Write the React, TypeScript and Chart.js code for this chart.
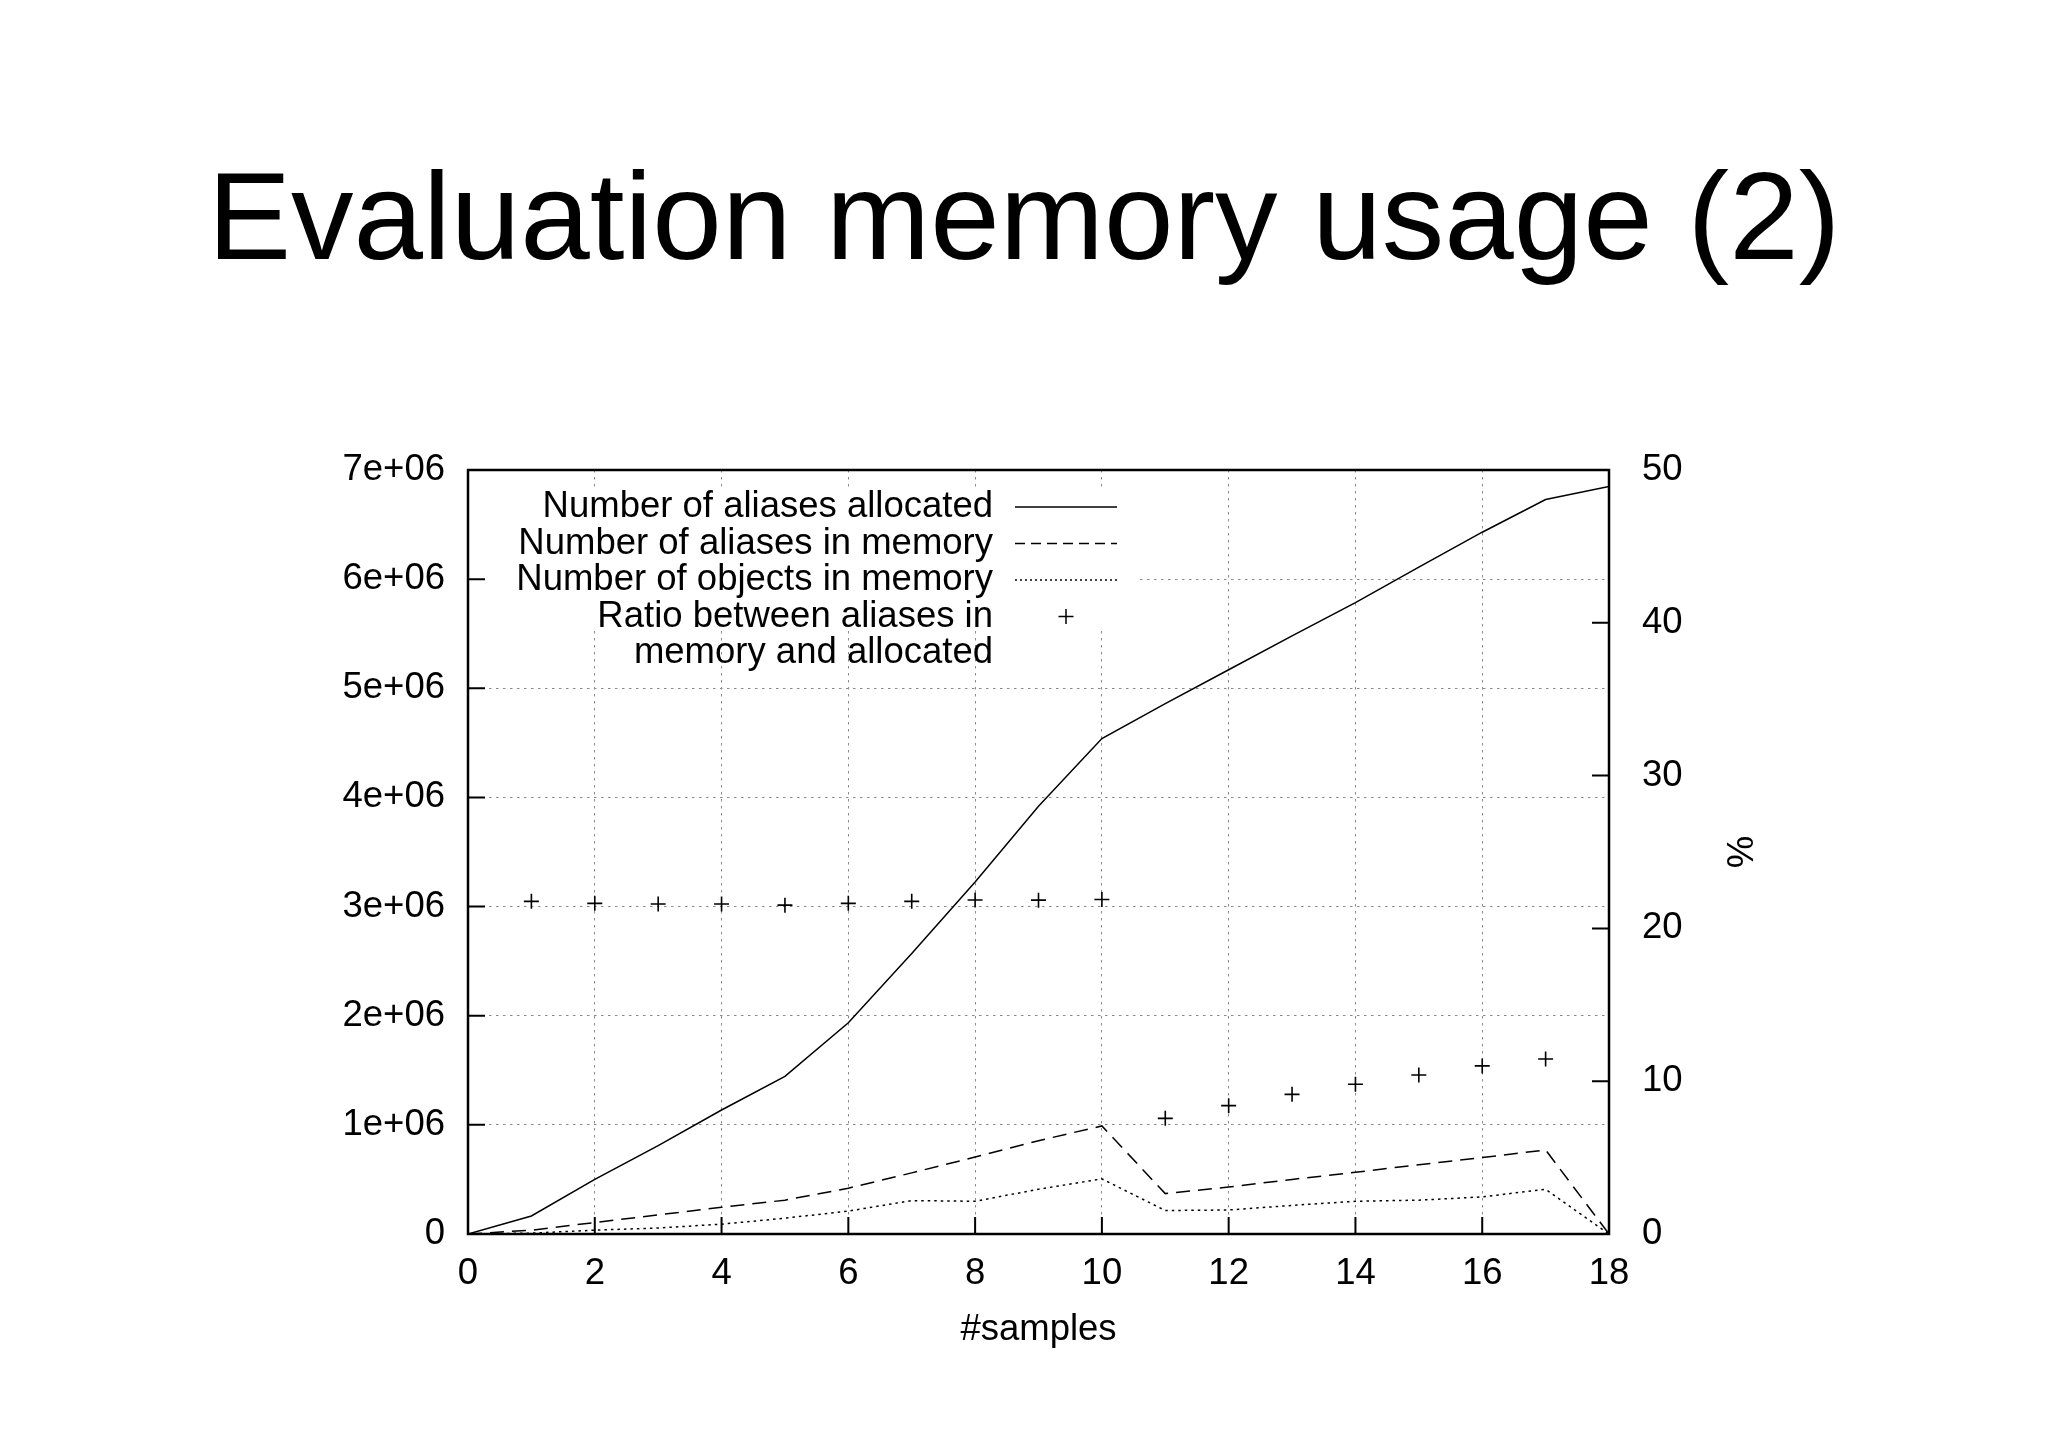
import React, { useEffect, useRef } from 'react';
import { Chart, registerables, Plugin } from 'chart.js';

Chart.register(...registerables);

const FONT = "'Liberation Sans', Helvetica, Arial, sans-serif";

// #samples on the x axis
const samples = [0, 1, 2, 3, 4, 5, 6, 7, 8, 9, 10, 11, 12, 13, 14, 15, 16, 17, 18];

const aliasesAllocated = [
    0, 165000, 500000, 810000, 1136000, 1445000, 1936000, 2570000, 3226000, 3920000,
    4540000, 4860000, 5170000, 5480000, 5785000, 6110000, 6430000, 6730000, 6850000,
];
const aliasesInMemory = [
    0, 35000, 105000, 175000, 245000, 310000, 420000, 560000, 705000, 855000,
    990000, 370000, 430000, 500000, 565000, 635000, 700000, 770000, 0,
];
const objectsInMemory = [
    0, 8000, 35000, 55000, 90000, 145000, 210000, 306000, 300000, 410000,
    505000, 215000, 220000, 262000, 300000, 310000, 340000, 410000, 0,
];
// ratio (%) between aliases in memory and allocated, right axis
const ratioPercent = [
    null, 21.77, 21.64, 21.6, 21.6, 21.52, 21.64, 21.77, 21.86, 21.85,
    21.89, 7.57, 8.4, 9.14, 9.8, 10.41, 11.0, 11.45, null,
];

const seriesLabels = [
    'Number of aliases allocated',
    'Number of aliases in memory',
    'Number of objects in memory',
    'Ratio between aliases in\nmemory and allocated',
];
const leftTickLabels = ['0', '1e+06', '2e+06', '3e+06', '4e+06', '5e+06', '6e+06', '7e+06'];

const tickFont = { family: FONT, size: 36.5 };

// gnuplot style key, frame and inward tick marks
const gnuplotPlugin: Plugin<'line'> = {
    id: 'gnuplotKey',
    beforeDatasetsDraw(chart) {
        const { ctx, chartArea: a } = chart;
        ctx.save();
        ctx.fillStyle = '#fff';
        ctx.fillRect(a.left + 2, a.top + 17, 666, 141);
        ctx.restore();
    },
    afterDraw(chart) {
        const { ctx, chartArea: a } = chart;
        ctx.save();
        ctx.setLineDash([]);
        ctx.strokeStyle = '#000';

        ctx.lineWidth = 2;
        ctx.beginPath();
        const xs = chart.scales.x;
        const ys = chart.scales.y;
        const y2s = chart.scales.y2;
        xs.ticks.forEach((t) => {
            const px = xs.getPixelForValue(t.value);
            ctx.moveTo(px, a.bottom);
            ctx.lineTo(px, a.bottom - 17);
        });
        ys.ticks.forEach((t) => {
            const py = ys.getPixelForValue(t.value);
            ctx.moveTo(a.left, py);
            ctx.lineTo(a.left + 17, py);
        });
        y2s.ticks.forEach((t) => {
            const py = y2s.getPixelForValue(t.value);
            ctx.moveTo(a.right, py);
            ctx.lineTo(a.right - 17, py);
        });
        ctx.stroke();

        ctx.lineWidth = 2.5;
        ctx.strokeRect(a.left, a.top, a.right - a.left, a.bottom - a.top);

        // key
        ctx.font = `36.5px ${FONT}`;
        ctx.fillStyle = '#000';
        ctx.textAlign = 'right';
        ctx.textBaseline = 'middle';
        const textRight = a.left + 525;
        const s0 = a.left + 547;
        const s1 = a.left + 649;
        let row = 0;
        chart.data.datasets.forEach((ds: any) => {
            const lines = String(ds.label).split('\n');
            const ry = a.top + 37 + row * 36.5;
            lines.forEach((l, i) => ctx.fillText(l, textRight, ry + i * 36.5));
            ctx.lineWidth = 1.5;
            ctx.beginPath();
            if (ds.showLine === false) {
                const cx = (s0 + s1) / 2;
                ctx.setLineDash([]);
                ctx.moveTo(cx - 7.5, ry);
                ctx.lineTo(cx + 7.5, ry);
                ctx.moveTo(cx, ry - 7.5);
                ctx.lineTo(cx, ry + 7.5);
            } else {
                ctx.setLineDash(ds.legendDash || []);
                ctx.moveTo(s0, ry);
                ctx.lineTo(s1, ry);
            }
            ctx.stroke();
            row += lines.length;
        });
        ctx.restore();
    },
};

const App = () => {
    const canvasRef = useRef<HTMLCanvasElement>(null);
    const chartInstance = useRef<Chart | null>(null);

    useEffect(() => {
        if (!canvasRef.current) return;
        if (chartInstance.current) {
            chartInstance.current.destroy();
        }
        const pts = (vals: (number | null)[]) => samples.map((s, i) => ({ x: s, y: vals[i] }));

        const gridOpts = { color: '#8a8a8a', lineWidth: 1, drawTicks: false };
        const borderOpts = { display: false, dash: [2.5, 4.5] };

        chartInstance.current = new Chart(canvasRef.current, {
            type: 'line',
            data: {
                datasets: [
                    {
                        label: seriesLabels[0],
                        data: pts(aliasesAllocated),
                        borderColor: '#000',
                        borderWidth: 1.5,
                        pointRadius: 0,
                        tension: 0,
                        yAxisID: 'y',
                    },
                    {
                        label: seriesLabels[1],
                        data: pts(aliasesInMemory),
                        borderColor: '#000',
                        borderWidth: 1.5,
                        borderDash: [14, 8],
                        legendDash: [10, 6],
                        pointRadius: 0,
                        tension: 0,
                        yAxisID: 'y',
                    } as any,
                    {
                        label: seriesLabels[2],
                        data: pts(objectsInMemory),
                        borderColor: '#000',
                        borderWidth: 1.5,
                        borderDash: [2.5, 4],
                        legendDash: [2, 3],
                        pointRadius: 0,
                        tension: 0,
                        yAxisID: 'y',
                    } as any,
                    {
                        label: seriesLabels[3],
                        data: pts(ratioPercent),
                        showLine: false,
                        pointStyle: 'cross',
                        pointRadius: 7.5,
                        pointBorderWidth: 1.6,
                        borderColor: '#000',
                        backgroundColor: '#000',
                        yAxisID: 'y2',
                    },
                ],
            },
            options: {
                animation: false,
                responsive: false,
                events: [],
                layout: { padding: 0 },
                plugins: {
                    legend: { display: false },
                    tooltip: { enabled: false },
                    title: {
                        display: true,
                        text: 'Evaluation memory usage (2)',
                        color: '#000',
                        font: { family: FONT, size: 125, weight: 'normal', lineHeight: 1.2 },
                        padding: { top: 150, bottom: 170 },
                    },
                },
                scales: {
                    x: {
                        type: 'linear',
                        min: 0,
                        max: 18,
                        ticks: {
                            stepSize: 2,
                            autoSkip: false,
                            maxRotation: 0,
                            padding: 18,
                            color: '#000',
                            font: tickFont,
                        },
                        grid: gridOpts,
                        border: borderOpts,
                        title: {
                            display: true,
                            text: '#samples',
                            color: '#000',
                            font: tickFont,
                            padding: { top: 96, bottom: 96 },
                        },
                        afterFit: (s) => {
                            s.height = 214;
                        },
                    },
                    y: {
                        type: 'linear',
                        position: 'left',
                        min: 0,
                        max: 7000000,
                        ticks: {
                            stepSize: 1000000,
                            padding: 23,
                            color: '#000',
                            font: tickFont,
                            callback: (v, i) => leftTickLabels[i],
                        },
                        grid: gridOpts,
                        border: borderOpts,
                        afterFit: (s) => {
                            s.width = 468;
                        },
                    },
                    y2: {
                        type: 'linear',
                        position: 'right',
                        min: 0,
                        max: 50,
                        ticks: {
                            stepSize: 10,
                            padding: 33,
                            color: '#000',
                            font: tickFont,
                        },
                        grid: { drawOnChartArea: false, drawTicks: false },
                        border: { display: false },
                        title: {
                            display: true,
                            text: '%',
                            color: '#000',
                            font: tickFont,
                            padding: { top: 289, bottom: 289 },
                        },
                        afterFit: (s) => {
                            s.width = 439;
                        },
                    },
                },
            },
            plugins: [gnuplotPlugin],
        });

        return () => {
            if (chartInstance.current) {
                chartInstance.current.destroy();
                chartInstance.current = null;
            }
        };
    }, []);

    return (
        <div style={{ position: 'absolute', left: 0, top: 0, width: 2048, height: 1448, background: '#fff' }}>
            <canvas ref={canvasRef} width={2048} height={1448} style={{ width: 2048, height: 1448 }}></canvas>
        </div>
    );
};

export default App;
